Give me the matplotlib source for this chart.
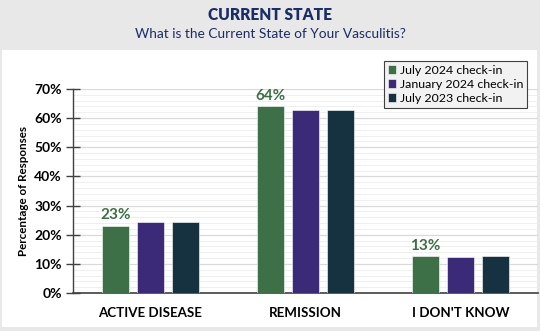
import matplotlib
matplotlib.use("Agg")
import matplotlib.pyplot as plt
import numpy as np
from matplotlib.patches import Rectangle

categories = ["ACTIVE DISEASE", "REMISSION", "I DON'T KNOW"]
series = ["July 2024 check-in", "January 2024 check-in", "July 2023 check-in"]
jul_2024 = [23.0, 64.0, 12.6]
jan_2024 = [24.5, 62.8, 12.5]
jul_2023 = [24.3, 62.8, 12.8]
labels_2024 = ["23%", "64%", "13%"]

colors = ["#3d7046", "#3b2a78", "#163240"]
navy = "#1b2d66"

plt.rcParams['font.family'] = ['Lato', 'DejaVu Sans']

W, H = 540, 331
fig = plt.figure(figsize=(W / 100, H / 100), dpi=100)
fig.patch.set_facecolor("#e8e8e8")

# white chart panel below the header band
fig.patches.append(Rectangle((2 / W, 1 - 327 / H), 535 / W, 277 / H,
                             transform=fig.transFigure, facecolor="white",
                             edgecolor="none", zorder=-1))

fig.text(0.5, 1 - 15 / H, "CURRENT STATE", ha="center", va="center",
         fontsize=11.2, fontweight="heavy", color=navy)
fig.text(0.5, 1 - 34 / H, "What is the Current State of Your Vasculitis?",
         ha="center", va="center", fontsize=9.9, color=navy)

ax = fig.add_axes([73 / W, 1 - 293 / H, (538 - 73) / W, (293 - 89) / H])
ax.set_facecolor("none")

x = np.arange(len(categories))
off = 0.225
bw = 0.174
vals = [jul_2024, jan_2024, jul_2023]
for i, (v, c, s) in enumerate(zip(vals, colors, series)):
    ax.bar(x + (i - 1) * off, v, bw, color=c, label=s, zorder=3,
           edgecolor="white", linewidth=0.4)

for xi, v, t in zip(x, jul_2024, labels_2024):
    ax.text(xi - off, v + 1.2, t, ha="center", va="bottom", fontsize=11,
            fontweight="bold", color=colors[0])

ax.set_xlim(-0.5, 2.5)
ax.set_ylim(0, 70)
ax.set_yticks(np.arange(0, 71, 10))
ax.set_yticklabels([f"{t}%" for t in range(0, 71, 10)])
ax.set_yticks(np.arange(0, 71, 2), minor=True)
ax.grid(axis="y", which="major", color="#d9d9d9", linewidth=0.9, zorder=0)
ax.grid(axis="y", which="minor", color="#efefef", linewidth=0.7, zorder=0)
ax.tick_params(axis="y", which="minor", length=0)
ax.tick_params(axis="y", which="major", direction="inout", length=10,
               width=1, color="#404040", labelsize=10, pad=3)
for lab in ax.get_yticklabels():
    lab.set_fontweight("bold")
ax.set_xticks(x)
ax.set_xticklabels(categories, fontsize=9.6, fontweight="bold")
ax.tick_params(axis="x", length=0, pad=10)

for side in ["top", "right"]:
    ax.spines[side].set_visible(False)
ax.spines["left"].set_color("#404040")
ax.spines["bottom"].set_color("#404040")
ax.spines["left"].set_linewidth(1.0)
ax.spines["bottom"].set_linewidth(1.2)

ax.set_ylabel("Percentage of Responses", fontsize=8.4, fontweight="bold",
              labelpad=4)

leg = ax.legend(loc="upper left", bbox_to_anchor=((384 - 73) / (538 - 73), 1 + (89 - 61) / (293 - 89)),
                fontsize=8.9, frameon=True, fancybox=False, handlelength=0.7,
                handleheight=0.7, handletextpad=0.3, borderpad=0.3,
                labelspacing=0.25, borderaxespad=0)
leg.get_frame().set_facecolor("#f2f2f2")
leg.get_frame().set_edgecolor("#404040")
leg.get_frame().set_linewidth(0.8)
leg.get_frame().set_alpha(1)

fig.savefig("out.png", dpi=100, facecolor=fig.get_facecolor())
